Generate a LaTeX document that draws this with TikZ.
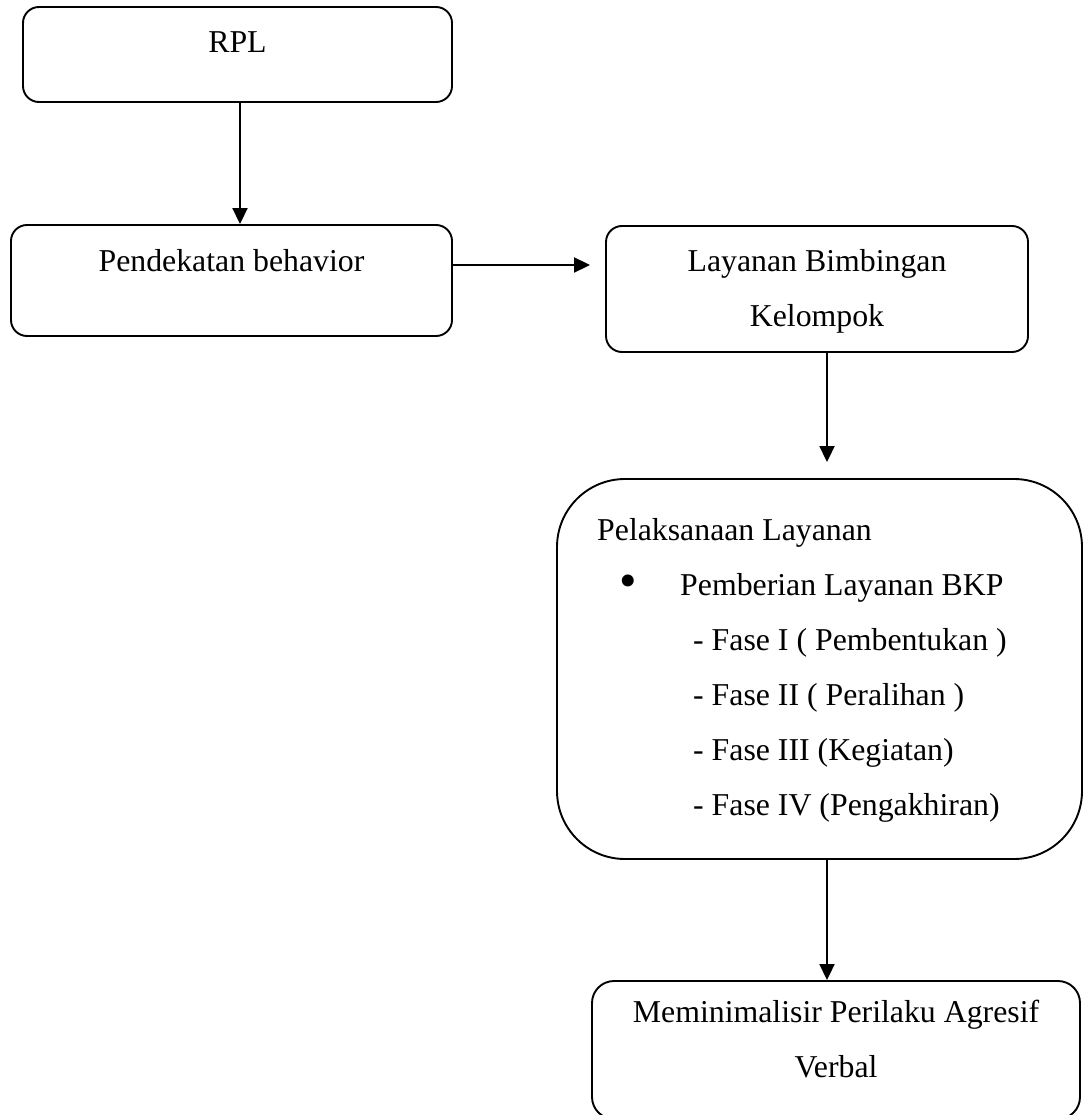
\documentclass[tikz,border=0pt]{standalone}
\usepackage{fontspec}
\setmainfont{Liberation Serif}
\usetikzlibrary{arrows.meta,calc}
\begin{document}
\begin{tikzpicture}[x=1pt,y=-1pt,
  box/.style={draw, line width=1.9pt, rounded corners=16pt, inner sep=0pt},
  txt/.style={inner sep=0pt, font=\fontsize{31.8}{55}\selectfont},
  arr/.style={line width=1.9pt, -{Triangle[length=16pt,width=15pt]}}]
\useasboundingbox (0,0) rectangle (1083,1115);
% boxes
\node[box, minimum width=429pt, minimum height=95pt] (rpl) at (237.5,54.5) {};
\node[box, minimum width=441pt, minimum height=111pt] (pend) at (231.5,280.5) {};
\node[box, minimum width=422pt, minimum height=126pt] (lay) at (817,289) {};
\node[box, rounded corners=68pt, minimum width=525pt, minimum height=380pt] (pel) at (819.5,669) {};
\node[box, rounded corners=22pt, minimum width=488pt, minimum height=138pt] (mem) at (836,1050) {};
% texts
\node[txt, anchor=base] (rplt) at (237.5,53) {RPL};
\node[txt, anchor=base] (pendt) at (231.5,271) {Pendekatan behavior};
\node[txt, anchor=base] (layt1) at (817,271) {Layanan Bimbingan};
\node[txt, anchor=base] (layt2) at (817,326) {Kelompok};
\node[txt, anchor=base west] (pel0) at (597,540) {Pelaksanaan Layanan};
\node[txt, font=\fontsize{50}{50}\selectfont, anchor=center] (bul) at (628,586) {•};
\node[txt, anchor=base west] (pel1) at (680,595) {Pemberian Layanan BKP};
\node[txt, anchor=base west] (pel2) at (693,650) {- Fase I ( Pembentukan )};
\node[txt, anchor=base west] (pel3) at (693,705) {- Fase II ( Peralihan )};
\node[txt, anchor=base west] (pel4) at (693,760) {- Fase III (Kegiatan)};
\node[txt, anchor=base west] (pel5) at (693,815) {- Fase IV (Pengakhiran)};
\node[txt, anchor=base] (memt1) at (836,1022) {Meminimalisir Perilaku Agresif};
\node[txt, anchor=base] (memt2) at (836,1077) {Verbal};
% connectors
\draw[arr] ($(rpl.south)+(2.5,0)$) -- ($(rpl.south |- pend.north)+(2.5,0)$);
\draw[arr] ($(pend.east)+(0,-15.5)$) -- ($(lay.west |- pend.east)+(-15,-15.5)$);
\draw[arr] ($(lay.south)+(10,0)$) -- ($(pel.north)+(7.5,-16)$);
\draw[arr] ($(pel.south)+(7.5,0)$) -- ($(mem.north)+(-9,0)$);
\end{tikzpicture}
\end{document}
